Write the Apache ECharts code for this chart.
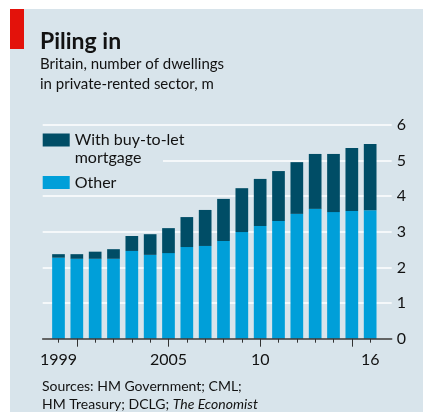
<!DOCTYPE html>
<html>
<head>
<meta charset="utf-8">
<script src="https://cdn.jsdelivr.net/npm/echarts@6/dist/echarts.min.js"></script>
<style>
html,body{margin:0;padding:0;background:#ffffff;}
#chart{width:423px;height:412px;}
</style>
</head>
<body>
<div id="chart"></div>
<script>
// ---- data ----
const years = ['1999','2000','2001','2002','2003','2004','2005','2006','2007','2008','2009','2010','2011','2012','2013','2014','2015','2016'];
const xTickLabels = ['1999','','','','','','2005','','','','','10','','','','','','16'];
const majorTickYears = ['2000','2005','2010','2015'];
const otherValues = [2.27, 2.24, 2.24, 2.24, 2.46, 2.35, 2.40, 2.57, 2.60, 2.74, 2.99, 3.16, 3.30, 3.50, 3.64, 3.55, 3.58, 3.60];
const buyToLetValues = [0.10, 0.13, 0.20, 0.27, 0.42, 0.58, 0.70, 0.84, 1.01, 1.18, 1.23, 1.32, 1.40, 1.45, 1.54, 1.63, 1.77, 1.86];
const yMin = 0, yMax = 6, yStep = 1;
const seriesOtherName = 'Other';
const seriesBtlName = 'With buy-to-let\nmortgage';

// ---- style ----
const FONT = 'Lato';
const BG = '#d8e4eb';
const DARK = '#004d66';
const BRIGHT = '#009fd9';
const INK = '#121212';

const chart = echarts.init(document.getElementById('chart'), null, {renderer: 'canvas'});

const option = {
  backgroundColor: '#ffffff',
  animation: false,
  graphic: [
    {type: 'rect', z: -10, silent: true, shape: {x: 10, y: 9, width: 413, height: 403}, style: {fill: BG}},
    {type: 'rect', z: -9, silent: true, shape: {x: 10, y: 9, width: 14, height: 40}, style: {fill: '#e3120b'}},
    // hides the gridline behind the legend's second text line
    {type: 'rect', z: 1, silent: true, shape: {x: 42, y: 156, width: 121, height: 8}, style: {fill: BG}}
  ],
  title: [
    {
      text: 'Piling in', left: 40, top: 30, padding: 0,
      textStyle: {fontFamily: FONT, fontSize: 23, fontWeight: 'bold', color: INK, lineHeight: 23}
    },
    {
      text: 'Britain, number of dwellings\nin private-rented sector, m', left: 40, top: 53.6, padding: 0,
      textStyle: {fontFamily: FONT, fontSize: 15, fontWeight: 'normal', color: INK, lineHeight: 20.7}
    },
    {
      text: 'Sources: HM Government; CML;\nHM Treasury; DCLG; {i|The Economist}', left: 42, top: 377.6, padding: 0,
      textStyle: {
        fontFamily: FONT, fontSize: 14, fontWeight: 'normal', color: INK, lineHeight: 17.7,
        rich: {i: {fontFamily: FONT, fontSize: 14, fontStyle: 'italic', color: INK, lineHeight: 17.7}}
      }
    }
  ],
  legend: {
    data: [seriesBtlName, seriesOtherName],
    orient: 'vertical',
    left: 42.7, top: 113.45, padding: 0, itemGap: 7.1,
    itemWidth: 27, itemHeight: 13, icon: 'rect',
    selectedMode: false,
    formatter: function (name) { return name === seriesBtlName ? '\n' + name : name; },
    textStyle: {fontFamily: FONT, fontSize: 16, lineHeight: 17.7, color: INK}
  },
  grid: [
    {left: 49.33, width: 330, top: 124.7, height: 214, outerBoundsMode: 'none', containLabel: false},
    {left: 42.7, width: 349, top: 124.7, height: 214, outerBoundsMode: 'none', containLabel: false}
  ],
  xAxis: [
    {
      type: 'category', gridIndex: 0, data: years, position: 'bottom',
      boundaryGap: true,
      axisLine: {show: false},
      axisTick: {show: true, alignWithLabel: true, interval: 0, length: 4, lineStyle: {color: '#333', width: 1}},
      axisLabel: {
        show: true, margin: 12.8,
        interval: function (idx) { return xTickLabels[idx] !== ''; },
        formatter: function (val, idx) { return xTickLabels[idx]; },
        fontFamily: FONT, fontSize: 16, color: INK
      },
      splitLine: {show: false}
    },
    {
      type: 'category', gridIndex: 0, data: years, position: 'bottom',
      boundaryGap: true,
      axisLine: {show: false},
      axisTick: {show: true, alignWithLabel: true, length: 8,
        interval: function (idx, val) { return majorTickYears.indexOf(val) >= 0; },
        lineStyle: {color: '#333', width: 1}},
      axisLabel: {show: false},
      splitLine: {show: false}
    },
    {
      type: 'value', gridIndex: 1, min: 0, max: 1, position: 'bottom', z: 5,
      axisLine: {show: true, lineStyle: {color: '#333', width: 1.5}},
      axisTick: {show: false}, axisLabel: {show: false}, splitLine: {show: false}
    }
  ],
  yAxis: [
    {type: 'value', gridIndex: 0, min: yMin, max: yMax, interval: yStep, show: false},
    {
      type: 'value', gridIndex: 1, min: yMin, max: yMax, interval: yStep, position: 'right',
      axisLine: {show: false}, axisTick: {show: false},
      axisLabel: {show: true, margin: 5, fontFamily: FONT, fontSize: 16, color: INK},
      splitLine: {show: true, lineStyle: {color: '#ffffff', width: 1.6}}
    }
  ],
  series: [
    {
      name: seriesOtherName, type: 'bar', stack: 'total', xAxisIndex: 0, yAxisIndex: 0,
      data: otherValues, barWidth: 12.7, itemStyle: {color: BRIGHT}
    },
    {
      name: seriesBtlName, type: 'bar', stack: 'total', xAxisIndex: 0, yAxisIndex: 0,
      data: buyToLetValues, barWidth: 12.7, itemStyle: {color: DARK}
    }
  ]
};
chart.setOption(option);
</script>
</body>
</html>
